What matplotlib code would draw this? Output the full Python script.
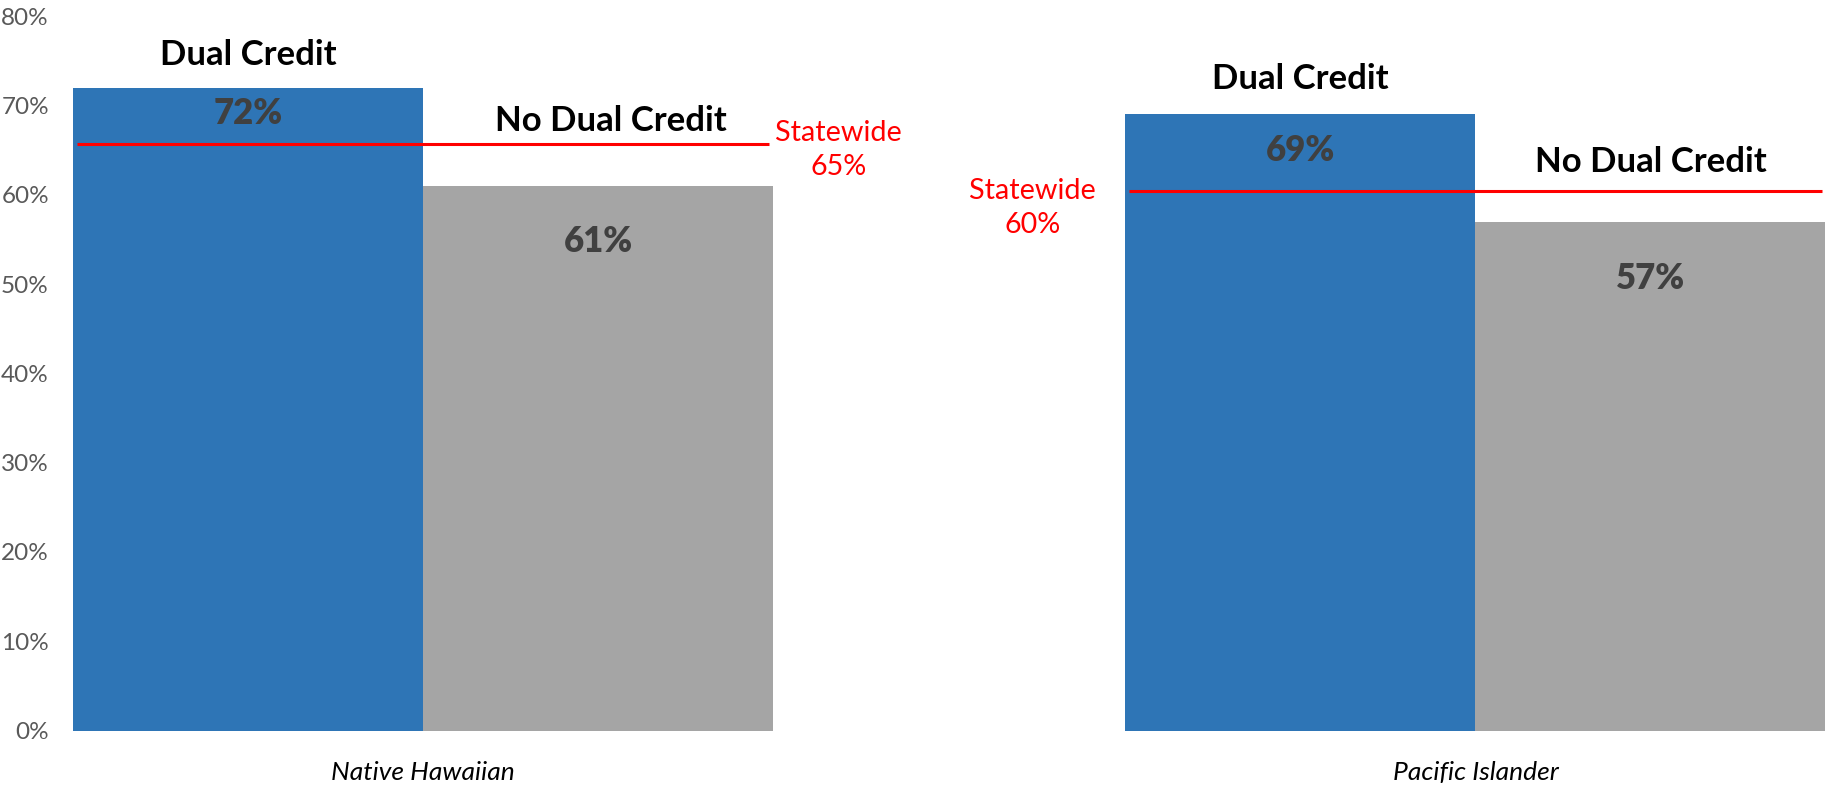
import matplotlib
matplotlib.use("Agg")
import matplotlib.pyplot as plt
import numpy as np

# ---- data ----
categories = ["Native Hawaiian", "Pacific Islander"]
dual_credit = [72, 69]
no_dual_credit = [61, 57]
statewide = [65.7, 60.4]
statewide_labels = ["Statewide\n65%", "Statewide\n60%"]
yticks = [0, 10, 20, 30, 40, 50, 60, 70, 80]

# ---- style ----
plt.rcParams["font.family"] = ["Lato", "DejaVu Sans"]
BLUE = "#2E75B6"
GRAY = "#A5A5A5"
RED = "#FF0000"
VAL_COLOR = "#404040"
TICK_COLOR = "#595959"

W, H = 1826, 789
fig = plt.figure(figsize=(W / 100, H / 100), dpi=100)
ax = fig.add_axes([60 / W, 1 - 730.5 / H, 1 - 60 / W, (730.5 - 16.2) / H])

x = np.arange(len(categories))
bw = 0.3327
ax.bar(x - bw / 2, dual_credit, width=bw, color=BLUE, linewidth=0)
ax.bar(x + bw / 2, no_dual_credit, width=bw, color=GRAY, linewidth=0)

ax.set_ylim(0, 80)
ax.set_xlim(-bw - 0.0124, 1 + bw + 0.0005)

# statewide lines
half = 0.329
for i, s in enumerate(statewide):
    ax.hlines(s, x[i] - half, x[i] + half, color=RED, linewidth=2.2, zorder=3)

# statewide labels (positioned manually)
sw_pos = [(0.395, 65.0), (0.579, 58.5)]
for (px, py), lab in zip(sw_pos, statewide_labels):
    ax.text(px, py, lab, color=RED, fontsize=20.7, ha="center", va="center",
            linespacing=1.4)

# series name labels
dc_label_y = [75.6, 73.0]
ndc_label_y = [68.3, 63.7]
for i in range(len(categories)):
    ax.text(x[i] - bw / 2, dc_label_y[i], "Dual Credit", fontsize=25,
            fontweight="bold", ha="center", va="center", color="black")
    ax.text(x[i] + bw / 2 + 0.012 * (i == 0), ndc_label_y[i], "No Dual Credit",
            fontsize=25, fontweight="bold", ha="center", va="center", color="black")

# value labels
dc_val_y = [69.1, 65.0]
ndc_val_y = [54.8, 50.6]
for i in range(len(categories)):
    ax.text(x[i] - bw / 2, dc_val_y[i], f"{dual_credit[i]}%", fontsize=25,
            fontweight="heavy", ha="center", va="center", color=VAL_COLOR)
    ax.text(x[i] + bw / 2, ndc_val_y[i], f"{no_dual_credit[i]}%", fontsize=25,
            fontweight="heavy", ha="center", va="center", color=VAL_COLOR)

# axes styling
ax.set_yticks(yticks)
ax.set_yticklabels([f"{t}%" for t in yticks], fontsize=17.5, color=TICK_COLOR)
ax.set_xticks(x)
ax.set_xticklabels(categories, fontsize=19, style="italic", color="black")
ax.tick_params(axis="both", length=0)
ax.tick_params(axis="y", pad=8)
ax.tick_params(axis="x", pad=22)
for sp in ax.spines.values():
    sp.set_visible(False)

fig.savefig("out.png", dpi=100)
